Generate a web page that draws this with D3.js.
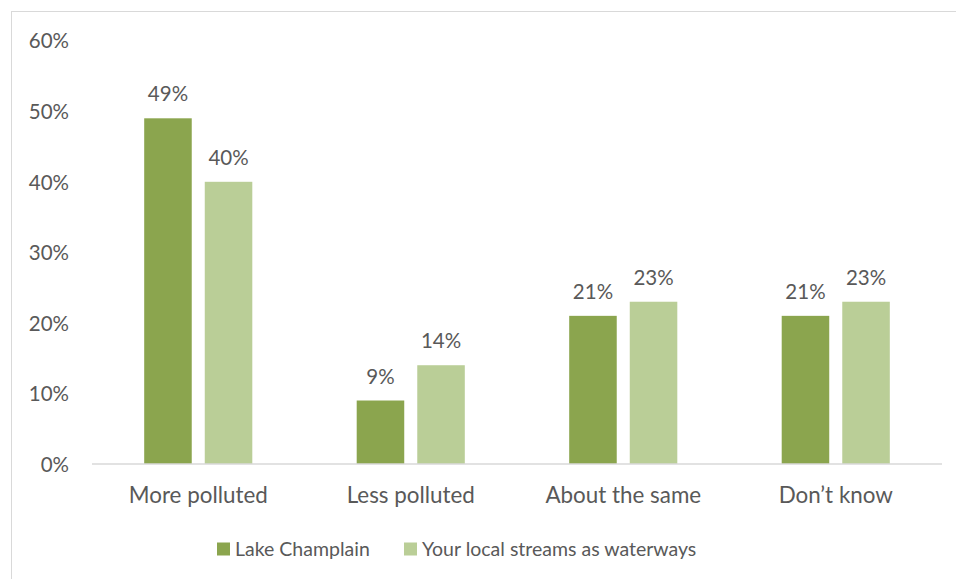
<!DOCTYPE html>
<html>
<head>
<meta charset="utf-8">
<script src="https://cdn.jsdelivr.net/npm/d3@7/dist/d3.min.js"></script>
<style>
  html, body { margin: 0; padding: 0; background: #ffffff; }
  svg { display: block; }
  text { font-family: Lato, "Open Sans", sans-serif; fill: #595959; }
</style>
</head>
<body>
<svg id="chart" width="956" height="579"></svg>
<script>
// Perception of water pollution, share of respondents
const categories = ["More polluted", "Less polluted", "About the same", "Don\u2019t know"];
const seriesNames = ["Lake Champlain", "Your local streams as waterways"];
const lakeChamplain = [49, 9, 21, 21];
const localStreams = [40, 14, 23, 23];
const yTicks = [0, 10, 20, 30, 40, 50, 60];
const colors = ["#8ba54e", "#bace97"];

const svg = d3.select("#chart");

// outer chart frame
svg.append("rect")
  .attr("x", 11.5).attr("y", 11.5)
  .attr("width", 1000).attr("height", 1000)
  .attr("fill", "none").attr("stroke", "#d9d9d9").attr("stroke-width", 1);

const plot = { left: 92, right: 942, top: 40.7, bottom: 464 };

const y = d3.scaleLinear().domain([0, 60]).range([plot.bottom, plot.top]);
const x0 = d3.scaleBand().domain(categories).range([plot.left, plot.right]).padding(0);
const groupInset = 52.2;
const x1 = d3.scaleBand().domain(seriesNames)
  .range([groupInset, x0.bandwidth() - groupInset])
  .paddingInner(0.215).paddingOuter(0);

const seriesValues = [lakeChamplain, localStreams];
const rows = [];
categories.forEach((c, i) => {
  seriesNames.forEach((s, j) => rows.push({ cat: c, series: s, idx: j, value: seriesValues[j][i] }));
});

// y-axis labels (no axis line, no gridlines)
svg.append("g").selectAll("text").data(yTicks).join("text")
  .attr("x", 69).attr("y", d => y(d))
  .attr("dy", "0.38em")
  .attr("text-anchor", "end")
  .style("font-size", "20.5px")
  .text(d => d + "%");

// bars
svg.append("g").selectAll("rect").data(rows).join("rect")
  .attr("x", d => x0(d.cat) + x1(d.series))
  .attr("y", d => y(d.value))
  .attr("width", x1.bandwidth())
  .attr("height", d => y(0) - y(d.value))
  .attr("fill", d => colors[d.idx]);

// value labels
svg.append("g").selectAll("text").data(rows).join("text")
  .attr("x", d => x0(d.cat) + x1(d.series) + x1.bandwidth() / 2)
  .attr("y", d => y(d.value) - 17)
  .attr("text-anchor", "middle")
  .style("font-size", "20.5px")
  .text(d => d.value + "%");

// category axis
const xAxis = svg.append("g").attr("transform", `translate(0,${plot.bottom})`)
  .call(d3.axisBottom(x0).tickSize(0).tickPadding(0));
xAxis.select(".domain").attr("stroke", "#d9d9d9").attr("stroke-width", 1.5)
  .attr("d", `M${plot.left},0H${plot.right}`);
xAxis.selectAll("text")
  .attr("y", 31).attr("dy", "0.36em")
  .style("font-size", "22.4px")
  .style("font-family", "Lato, 'Open Sans', sans-serif")
  .attr("fill", "#595959");

// legend
const legend = svg.append("g");
const legendX = [217, 404];
seriesNames.forEach((name, j) => {
  legend.append("rect")
    .attr("x", legendX[j]).attr("y", 542.5)
    .attr("width", 13).attr("height", 13)
    .attr("fill", colors[j]);
  legend.append("text")
    .attr("x", legendX[j] + 18).attr("y", 549).attr("dy", "0.36em")
    .style("font-size", "19.5px")
    .text(name);
});
</script>
</body>
</html>
